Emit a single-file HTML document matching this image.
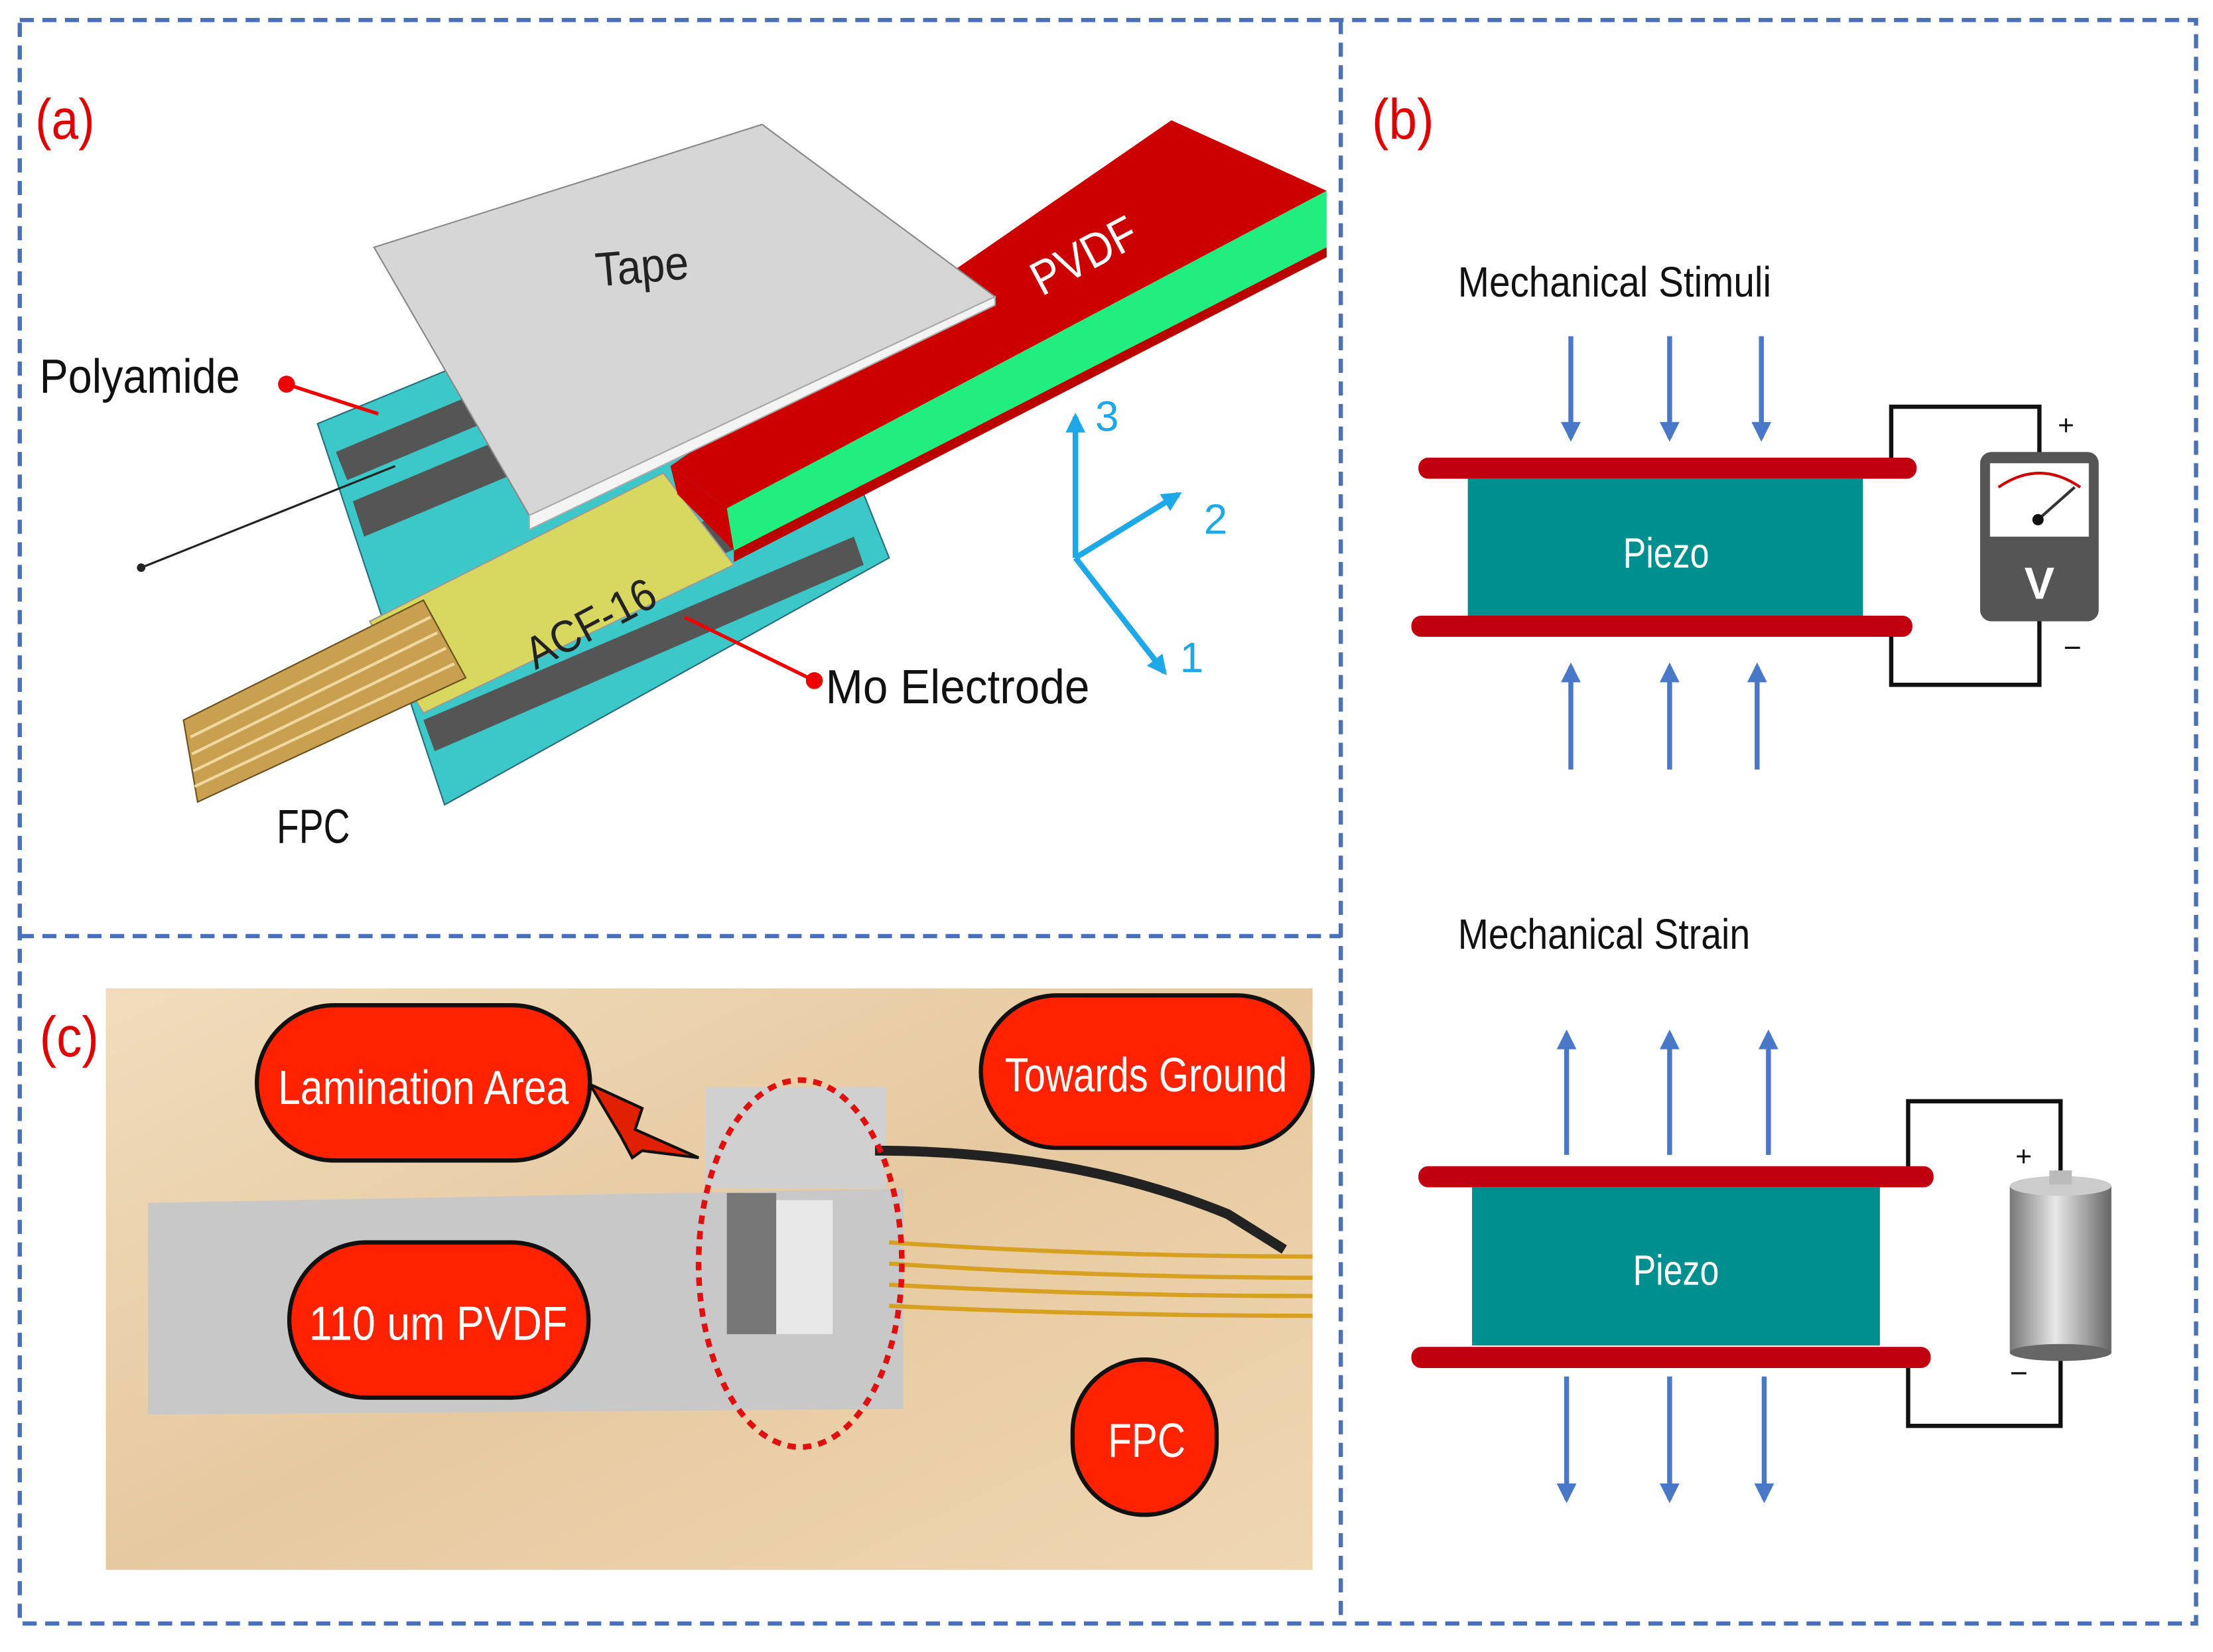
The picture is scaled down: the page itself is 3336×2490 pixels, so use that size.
<!DOCTYPE html>
<html><head><meta charset="utf-8"><style>
html,body{margin:0;padding:0;background:#fff}
svg{display:block}
text{font-family:"Liberation Sans",sans-serif}
</style></head><body>
<svg width="3336" height="2490" viewBox="0 0 1568 1170" xmlns="http://www.w3.org/2000/svg">
<defs>
<marker id="ab" viewBox="0 0 10 10" refX="8" refY="5" markerWidth="4" markerHeight="4" orient="auto"><path d="M0,0 L10,5 L0,10 z" fill="#4a78c8"/></marker>
<marker id="ac" viewBox="0 0 10 10" refX="8" refY="5" markerWidth="3.5" markerHeight="3.5" orient="auto"><path d="M0,0 L10,5 L0,10 z" fill="#1fa8e8"/></marker>
<linearGradient id="cyl" x1="0" x2="1"><stop offset="0" stop-color="#777"/><stop offset=".45" stop-color="#e8e8e8"/><stop offset="1" stop-color="#666"/></linearGradient>
<linearGradient id="wood" x1="0" y1="0" x2="1" y2="1"><stop offset="0" stop-color="#f0dcbc"/><stop offset=".5" stop-color="#e6c9a0"/><stop offset="1" stop-color="#efd7b2"/></linearGradient>
</defs>
<rect width="1568" height="1170" fill="#fff"/>
<g stroke="#4a70b8" stroke-width="3" stroke-dasharray="10,6" fill="none">
<rect x="14" y="14" width="1542" height="1136"/>
<line x1="950" y1="14" x2="950" y2="1150"/>
<line x1="14" y1="663" x2="950" y2="663"/>
</g>
<!-- panel a -->
<text x="25" y="98" font-size="40" fill="#e00000" textLength="42" lengthAdjust="spacingAndGlyphs">(a)</text>
<polygon points="225,300 540,170 630,395 315,570" fill="#3cc8c8" stroke="#2a6b7a" stroke-width="1"/>
<polygon points="238,320 548,190 556,210 246,340" fill="#555"/>
<polygon points="250,355 560,225 568,250 258,380" fill="#555"/>
<polygon points="285,460 590,330 600,355 295,485" fill="#555"/>
<polygon points="300,510 605,380 612,400 308,532" fill="#555"/>
<polygon points="262,440 470,335 520,400 300,505" fill="#d8d860" stroke="#999" stroke-width="1"/>
<polygon points="130,510 300,425 330,480 140,568" fill="#c8a050" stroke="#6a5020" stroke-width="1"/>
<g stroke="#f0d8a0" stroke-width="2"><line x1="135" y1="522" x2="305" y2="437"/><line x1="136" y1="534" x2="310" y2="448"/><line x1="137" y1="546" x2="316" y2="459"/><line x1="138" y1="557" x2="322" y2="470"/></g>
<polygon points="475,330 830,85 940,135 515,360" fill="#cc0000"/>
<polygon points="515,360 940,135 940,175 520,390" fill="#22ee80"/>
<polygon points="475,330 515,360 520,390 480,350" fill="#cc0000"/>
<polygon points="520,390 940,175 940,182 520,398" fill="#bb0000"/>
<polygon points="265,175 540,88 705,210 375,365" fill="#d6d6d6" stroke="#888" stroke-width="1"/>
<polygon points="375,365 705,210 705,216 375,375" fill="#f4f4f4" stroke="#aaa" stroke-width="1"/>
<text x="422" y="200" font-size="34" fill="#222" textLength="66" lengthAdjust="spacingAndGlyphs" transform="rotate(-5 455 190)">Tape</text>
<text x="722" y="195" font-size="34" fill="#fff" textLength="80" lengthAdjust="spacingAndGlyphs" transform="rotate(-28 760 170)">PVDF</text>
<text x="362" y="455" font-size="32" fill="#222" textLength="100" lengthAdjust="spacingAndGlyphs" transform="rotate(-28 410 430)">ACF-16</text>
<line x1="100" y1="402" x2="280" y2="330" stroke="#222" stroke-width="1.5"/><circle cx="100" cy="402" r="3" fill="#222"/>
<line x1="203" y1="272" x2="268" y2="293" stroke="#e00" stroke-width="2.5"/><circle cx="203" cy="272" r="6" fill="#e00"/>
<line x1="485" y1="437" x2="577" y2="482" stroke="#e00" stroke-width="2.5"/><circle cx="577" cy="482" r="6" fill="#e00"/>
<text x="28" y="278" font-size="34" fill="#111" textLength="142" lengthAdjust="spacingAndGlyphs">Polyamide</text>
<text x="585" y="498" font-size="34" fill="#111" textLength="187" lengthAdjust="spacingAndGlyphs">Mo Electrode</text>
<text x="196" y="597" font-size="34" fill="#111" textLength="52" lengthAdjust="spacingAndGlyphs">FPC</text>
<g stroke="#1fa8e8" stroke-width="4" fill="none">
<line x1="762" y1="395" x2="762" y2="295" marker-end="url(#ac)"/>
<line x1="762" y1="395" x2="835" y2="350" marker-end="url(#ac)"/>
<line x1="762" y1="395" x2="825" y2="476" marker-end="url(#ac)"/>
</g>
<text x="776" y="305" font-size="30" fill="#1fa8e8">3</text>
<text x="853" y="378" font-size="30" fill="#1fa8e8">2</text>
<text x="836" y="476" font-size="30" fill="#1fa8e8">1</text>
<!-- panel b -->
<text x="972" y="98" font-size="40" fill="#e00000" textLength="44" lengthAdjust="spacingAndGlyphs">(b)</text>
<text x="1033" y="210" font-size="30" fill="#111" textLength="222" lengthAdjust="spacingAndGlyphs">Mechanical Stimuli</text>
<g stroke="#4a78c8" stroke-width="3.5" marker-end="url(#ab)">
<line x1="1113" y1="238" x2="1113" y2="310"/><line x1="1183" y1="238" x2="1183" y2="310"/><line x1="1248" y1="238" x2="1248" y2="310"/>
<line x1="1113" y1="545" x2="1113" y2="472"/><line x1="1183" y1="545" x2="1183" y2="472"/><line x1="1245" y1="545" x2="1245" y2="472"/>
</g>
<g stroke="#111" stroke-width="3" fill="none">
<polyline points="1340,331 1340,288 1445,288 1445,322"/>
<polyline points="1340,442 1340,485 1445,485 1445,438"/>
</g>
<rect x="1005" y="324" width="353" height="15" rx="7" fill="#c00010"/>
<rect x="1040" y="339" width="280" height="97" fill="#008f8f"/>
<rect x="1000" y="436" width="355" height="15" rx="7" fill="#c00010"/>
<text x="1150" y="402" font-size="30" fill="#fff" textLength="61" lengthAdjust="spacingAndGlyphs">Piezo</text>
<rect x="1403" y="320" width="84" height="120" rx="8" fill="#555"/>
<rect x="1410" y="328" width="70" height="52" fill="#fff"/>
<path d="M1416,345 Q1445,325 1474,345" stroke="#c00" stroke-width="2" fill="none"/>
<line x1="1444" y1="368" x2="1470" y2="345" stroke="#333" stroke-width="2"/><circle cx="1444" cy="368" r="4" fill="#111"/>
<text x="1445" y="424" font-size="32" font-weight="bold" fill="#fff" text-anchor="middle">V</text>
<text x="1458" y="308" font-size="20" fill="#111">+</text>
<text x="1462" y="466" font-size="22" fill="#111">−</text>
<text x="1033" y="672" font-size="30" fill="#111" textLength="207" lengthAdjust="spacingAndGlyphs">Mechanical Strain</text>
<g stroke="#4a78c8" stroke-width="3.5" marker-end="url(#ab)">
<line x1="1110" y1="818" x2="1110" y2="732"/><line x1="1183" y1="818" x2="1183" y2="732"/><line x1="1253" y1="818" x2="1253" y2="732"/>
<line x1="1110" y1="975" x2="1110" y2="1062"/><line x1="1183" y1="975" x2="1183" y2="1062"/><line x1="1250" y1="975" x2="1250" y2="1062"/>
</g>
<g stroke="#111" stroke-width="3" fill="none">
<polyline points="1352,833 1352,780 1460,780 1460,833"/>
<polyline points="1352,962 1352,1010 1460,1010 1460,960"/>
</g>
<rect x="1005" y="826" width="365" height="15" rx="7" fill="#c00010"/>
<rect x="1043" y="841" width="289" height="112" fill="#008f8f"/>
<rect x="1000" y="954" width="368" height="15" rx="7" fill="#c00010"/>
<text x="1157" y="910" font-size="30" fill="#fff" textLength="61" lengthAdjust="spacingAndGlyphs">Piezo</text>
<rect x="1424" y="840" width="72" height="118" fill="url(#cyl)"/>
<ellipse cx="1460" cy="958" rx="36" ry="6" fill="#666"/>
<ellipse cx="1460" cy="840" rx="36" ry="7" fill="#ccc"/>
<rect x="1452" y="829" width="16" height="10" fill="#bbb"/>
<text x="1428" y="826" font-size="20" fill="#111">+</text>
<text x="1424" y="980" font-size="22" fill="#111">−</text>
<!-- panel c -->
<text x="28" y="748" font-size="40" fill="#e00000" textLength="42" lengthAdjust="spacingAndGlyphs">(c)</text>
<rect x="75" y="700" width="855" height="412" fill="url(#wood)"/>
<polygon points="105,852 640,842 640,998 105,1002" fill="#c8c8c8"/>
<rect x="500" y="770" width="128" height="72" fill="#d0d0d0"/>
<rect x="515" y="845" width="35" height="100" fill="#777"/>
<rect x="550" y="850" width="40" height="95" fill="#e8e8e8"/>
<g stroke="#d8a020" stroke-width="3" fill="none">
<path d="M630,880 Q780,890 930,890"/><path d="M630,895 Q780,905 930,905"/><path d="M630,910 Q780,918 930,918"/><path d="M630,925 Q780,932 930,932"/>
</g>
<path d="M620,815 Q760,815 870,860 L910,885" stroke="#222" stroke-width="7" fill="none"/>
<ellipse cx="567" cy="895" rx="72" ry="130" fill="none" stroke="#e01010" stroke-width="4" stroke-dasharray="6,5"/>
<polygon points="495,820 450,800 455,785 418,768 440,805 448,820 455,815" fill="#e02000" stroke="#111" stroke-width="2"/>
<g stroke="#111" stroke-width="3" fill="#ff2200">
<rect x="182" y="712" width="236" height="110" rx="55"/>
<rect x="695" y="705" width="235" height="108" rx="54"/>
<rect x="205" y="880" width="212" height="110" rx="55"/>
<rect x="760" y="963" width="102" height="110" rx="51"/>
</g>
<g fill="#fff" font-size="34">
<text x="197" y="782" textLength="206" lengthAdjust="spacingAndGlyphs">Lamination Area</text>
<text x="712" y="773" textLength="200" lengthAdjust="spacingAndGlyphs">Towards Ground</text>
<text x="219" y="949" textLength="183" lengthAdjust="spacingAndGlyphs">110 um PVDF</text>
<text x="785" y="1032" textLength="55" lengthAdjust="spacingAndGlyphs">FPC</text>
</g>
</svg>
</body></html>
